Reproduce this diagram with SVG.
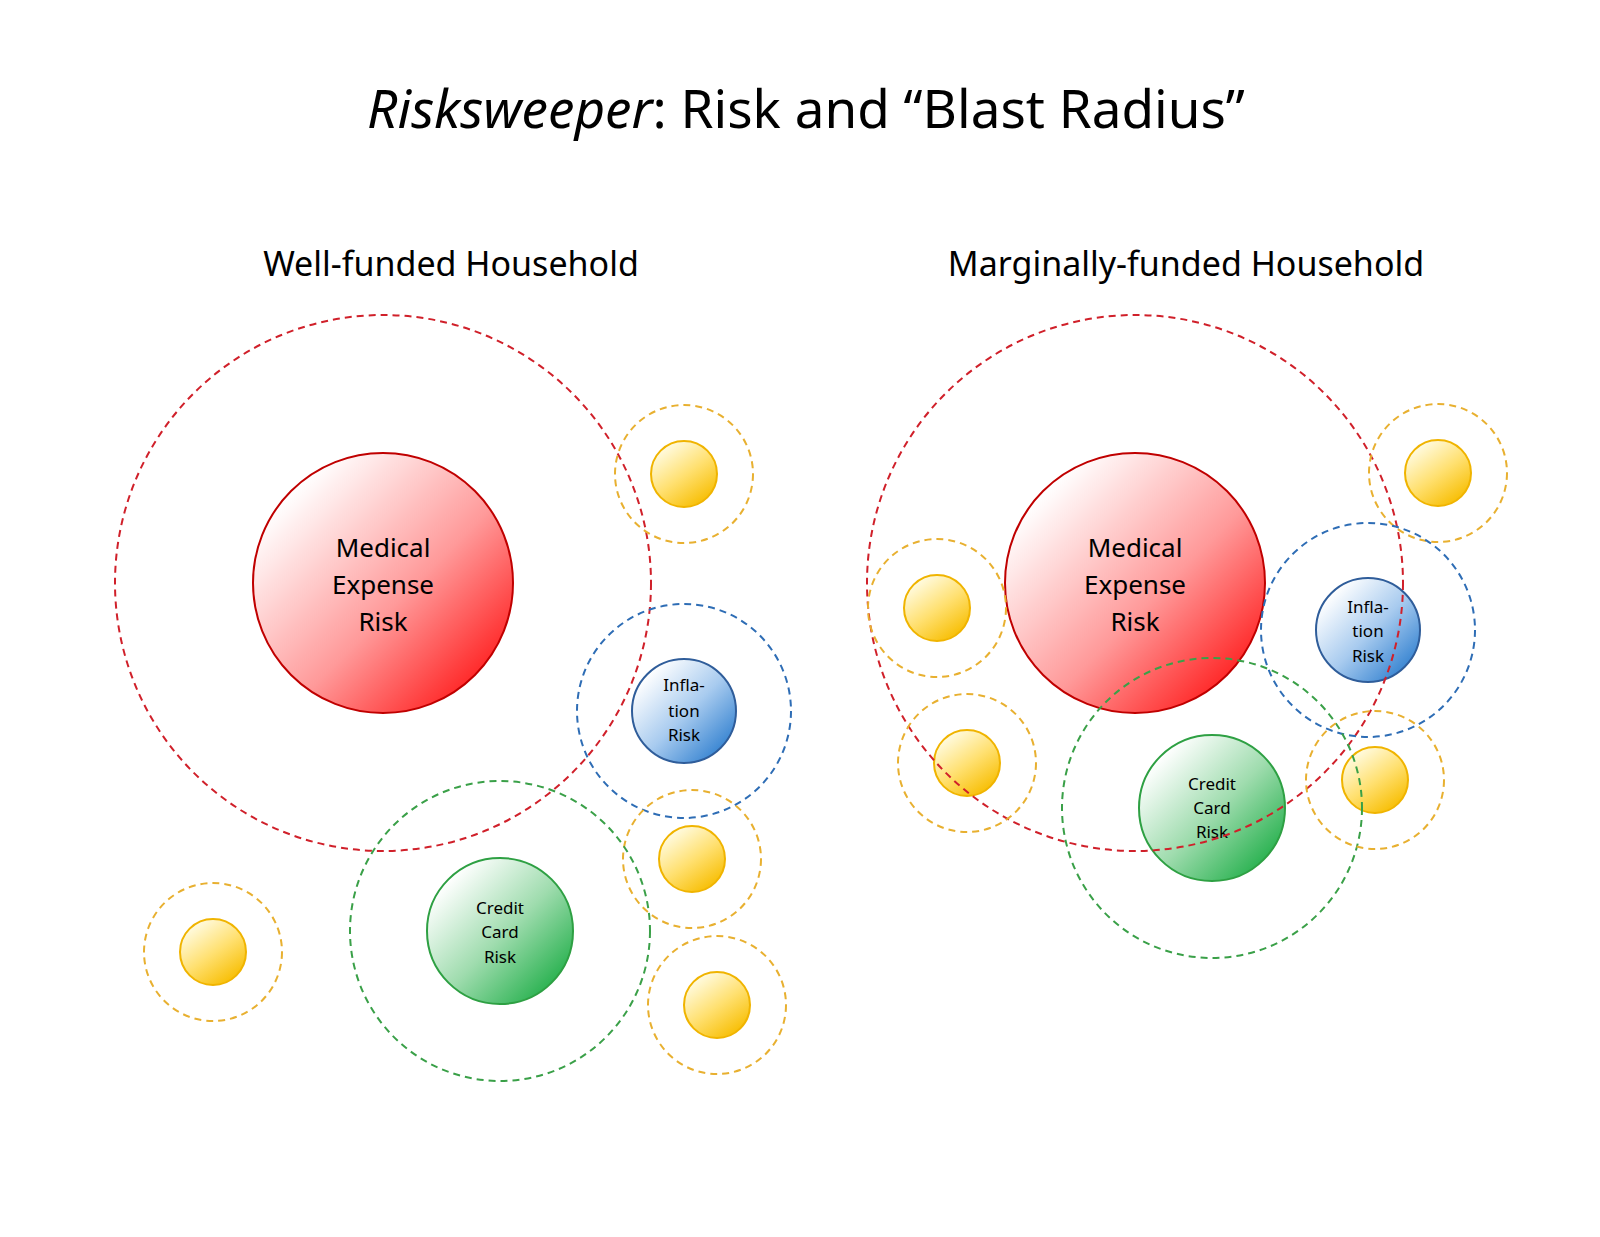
<svg xmlns="http://www.w3.org/2000/svg" width="1600" height="1237" viewBox="0 0 1600 1237">
<defs>
<linearGradient id="gr" x1="0.15" y1="0.15" x2="0.9" y2="0.9"><stop offset="0" stop-color="#ffffff"/><stop offset="0.55" stop-color="#ff9a9a"/><stop offset="1" stop-color="#ff1a1a"/></linearGradient>
<linearGradient id="gb" x1="0.15" y1="0.15" x2="0.9" y2="0.9"><stop offset="0" stop-color="#ffffff"/><stop offset="0.5" stop-color="#a8cbef"/><stop offset="1" stop-color="#2f7fcf"/></linearGradient>
<linearGradient id="gg" x1="0.15" y1="0.15" x2="0.9" y2="0.9"><stop offset="0" stop-color="#ffffff"/><stop offset="0.5" stop-color="#9fdcae"/><stop offset="1" stop-color="#1fae48"/></linearGradient>
<linearGradient id="gy" x1="0.2" y1="0.1" x2="0.8" y2="0.95"><stop offset="0" stop-color="#fffbe0"/><stop offset="0.5" stop-color="#ffe070"/><stop offset="1" stop-color="#f7bd00"/></linearGradient>
</defs>
<style>
text{font-family:"Noto Sans","Open Sans",sans-serif;fill:#000;text-anchor:middle}
.d{fill:none;stroke-width:2;stroke-dasharray:7 5}
.dr{stroke:#d0202a}.dy{stroke:#e8b030}.db{stroke:#2e6db5}.dg{stroke:#3aa048}
.y{fill:url(#gy);stroke:#f0b400;stroke-width:2}
.m{font-size:26px}.s{font-size:17px}
</style>
<rect width="1600" height="1237" fill="#fff"/>
<text x="806" y="128" font-size="53"><tspan font-style="italic">Risksweeper</tspan>: Risk and “Blast Radius”</text>
<text x="451" y="276" font-size="34">Well-funded Household</text>
<text x="1186" y="276" font-size="34">Marginally-funded Household</text>

<g id="left-medical"><circle cx="383" cy="583" r="130" fill="url(#gr)" stroke="#c00000" stroke-width="2"/>
<text class="m" x="383" y="557">Medical</text><text class="m" x="383" y="594">Expense</text><text class="m" x="383" y="631">Risk</text></g>
<g id="left-inflation"><circle cx="684" cy="711" r="52" fill="url(#gb)" stroke="#2f5d9a" stroke-width="2"/>
<text class="s" x="684" y="691">Infla-</text><text class="s" x="684" y="717">tion</text><text class="s" x="684" y="741">Risk</text></g>
<g id="left-credit"><circle cx="500" cy="931" r="73" fill="url(#gg)" stroke="#2ea043" stroke-width="2"/>
<text class="s" x="500" y="914">Credit</text><text class="s" x="500" y="938">Card</text><text class="s" x="500" y="963">Risk</text></g>
<g id="left-yellows">
<circle class="y" cx="684" cy="474" r="33"/><circle class="y" cx="692" cy="859" r="33"/>
<circle class="y" cx="213" cy="952" r="33"/><circle class="y" cx="717" cy="1005" r="33"/></g>

<g id="right-medical"><circle cx="1135" cy="583" r="130" fill="url(#gr)" stroke="#c00000" stroke-width="2"/>
<text class="m" x="1135" y="557">Medical</text><text class="m" x="1135" y="594">Expense</text><text class="m" x="1135" y="631">Risk</text></g>
<g id="right-inflation"><circle cx="1368" cy="630" r="52" fill="url(#gb)" stroke="#2f5d9a" stroke-width="2"/>
<text class="s" x="1368" y="613">Infla-</text><text class="s" x="1368" y="637">tion</text><text class="s" x="1368" y="662">Risk</text></g>
<g id="right-credit"><circle cx="1212" cy="808" r="73" fill="url(#gg)" stroke="#2ea043" stroke-width="2"/>
<text class="s" x="1212" y="790">Credit</text><text class="s" x="1212" y="814">Card</text><text class="s" x="1212" y="838">Risk</text></g>
<g id="right-yellows">
<circle class="y" cx="1438" cy="473" r="33"/><circle class="y" cx="937" cy="608" r="33"/>
<circle class="y" cx="967" cy="763" r="33"/><circle class="y" cx="1375" cy="780" r="33"/></g>

<g id="blast-radii">
<circle class="d dr" cx="383" cy="583" r="268"/>
<circle class="d dy" cx="684" cy="474" r="69"/>
<circle class="d db" cx="684" cy="711" r="107"/>
<circle class="d dy" cx="692" cy="859" r="69"/>
<circle class="d dg" cx="500" cy="931" r="150"/>
<circle class="d dy" cx="213" cy="952" r="69"/>
<circle class="d dy" cx="717" cy="1005" r="69"/>
<circle class="d dr" cx="1135" cy="583" r="268"/>
<circle class="d dy" cx="1438" cy="473" r="69"/>
<circle class="d db" cx="1368" cy="630" r="107"/>
<circle class="d dy" cx="937" cy="608" r="69"/>
<circle class="d dy" cx="967" cy="763" r="69"/>
<circle class="d dg" cx="1212" cy="808" r="150"/>
<circle class="d dy" cx="1375" cy="780" r="69"/>
</g>
</svg>
